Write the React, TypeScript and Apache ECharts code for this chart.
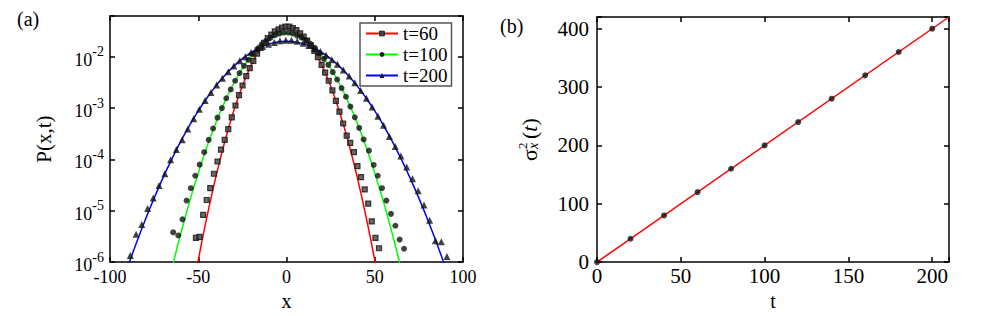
import React, { useEffect, useRef } from 'react';
import * as echarts from 'echarts';

// ---------- panel (a): simulation points ----------
const sqX = [-51.3,-49.3,-47.2,-45.2,-43.2,-41.1,-39.1,-37.1,-35.0,-33.0,-31.0,-28.9,-26.9,-24.9,-22.8,-20.8,-18.8,-16.7,-14.7,-12.7,-10.6,-8.6,-6.6,-4.5,-2.5,-0.5,1.6,3.6,5.6,7.7,9.7,11.7,13.8,15.8,17.8,19.9,21.9,23.9,26.0,28.0,30.0,32.1,34.1,36.1,38.2,40.2,42.2,44.3,46.3,48.3,50.4,52.4];
const sqP = [2.95e-6,3.1e-6,8.3e-6,1.62e-5,2.75e-5,5.25e-5,9.1e-5,1.55e-4,2.4e-4,3.9e-4,6.6e-4,1.12e-3,1.78e-3,2.75e-3,4.2e-3,6.0e-3,8.3e-3,1.15e-2,1.48e-2,1.86e-2,2.29e-2,2.69e-2,3.1e-2,3.4e-2,3.7e-2,3.85e-2,3.85e-2,3.6e-2,3.3e-2,2.85e-2,2.45e-2,2.05e-2,1.65e-2,1.3e-2,9.8e-3,6.9e-3,4.9e-3,3.4e-3,2.2e-3,1.38e-3,8.5e-4,5.0e-4,2.9e-4,2.1e-4,1.38e-4,7.4e-5,4.5e-5,2.6e-5,1.38e-5,6.2e-6,2.95e-6,1.86e-6];

const ciX = [-64.2,-61.3,-58.9,-56.6,-54.2,-51.7,-49.2,-46.6,-44.1,-41.6,-39.1,-36.6,-34.1,-31.6,-29.1,-26.6,-24.1,-21.6,-19.1,-16.5,-14.0,-11.5,-9.0,-6.5,-4.0,-1.5,1.1,3.6,6.1,8.6,11.1,13.6,16.1,18.6,21.2,23.7,26.2,28.7,31.2,33.7,36.2,38.7,41.2,43.7,46.7,49.4,51.7,54.1,56.6,59.2,61.7,64.1,66.6];
const ciP = [3.8e-6,3.3e-6,6.8e-6,1.58e-5,2.75e-5,4.8e-5,7.9e-5,1.38e-4,2.4e-4,4.0e-4,6.5e-4,1.0e-3,1.55e-3,2.3e-3,3.4e-3,4.8e-3,6.6e-3,8.7e-3,1.12e-2,1.41e-2,1.74e-2,2.04e-2,2.34e-2,2.63e-2,2.82e-2,2.95e-2,2.95e-2,2.82e-2,2.57e-2,2.34e-2,2.09e-2,1.78e-2,1.48e-2,1.17e-2,9.1e-3,6.9e-3,5.0e-3,3.6e-3,2.45e-3,1.66e-3,1.07e-3,6.6e-4,4.1e-4,2.45e-4,1.48e-4,7.8e-5,4.8e-5,2.75e-5,1.58e-5,8.7e-6,5.1e-6,2.75e-6,1.82e-6];

const trX = [-88.5,-85.2,-82.0,-78.7,-75.5,-72.2,-68.9,-65.7,-62.4,-59.1,-55.9,-52.6,-49.4,-46.1,-42.8,-39.6,-36.3,-33.0,-29.8,-26.5,-23.3,-20.0,-16.7,-13.5,-10.2,-6.9,-3.7,-0.4,2.8,6.1,9.4,12.6,15.9,19.2,22.4,25.7,28.9,32.2,35.5,38.7,42.0,45.3,48.5,51.8,55.0,58.3,61.6,64.8,68.1,71.4,74.6,77.9,81.1,84.4,87.7,90.9];
const trP = [1.35e-6,3.5e-6,5.4e-6,1.1e-5,1.78e-5,3.1e-5,5.25e-5,9.8e-5,1.55e-4,2.4e-4,3.9e-4,6.2e-4,9.5e-4,1.41e-3,2.0e-3,2.8e-3,3.8e-3,5.1e-3,6.6e-3,8.3e-3,1.0e-2,1.2e-2,1.41e-2,1.58e-2,1.74e-2,1.9e-2,2.04e-2,2.09e-2,2.09e-2,2.0e-2,1.82e-2,1.66e-2,1.45e-2,1.26e-2,1.07e-2,8.7e-3,7.1e-3,5.5e-3,4.2e-3,3.1e-3,2.2e-3,1.55e-3,1.05e-3,6.9e-4,4.6e-4,2.8e-4,1.78e-4,1.17e-4,7.1e-5,4.2e-5,2.45e-5,1.29e-5,6.5e-6,2.6e-6,2.5e-6,1.29e-6];

// ---------- panel (a): Gaussian curves ----------
const curveX60 = [-55,-50,-45,-40,-35,-30,-25,-20,-15,-10,-5,0,5,10,15,20,25,30,35,40,45,50,55];
const curveP60 = [1.22e-7,1.09e-6,7.87e-6,4.63e-5,2.21e-4,8.55e-4,2.69e-3,6.87e-3,1.43e-2,2.40e-2,3.28e-2,3.64e-2,3.28e-2,2.40e-2,1.43e-2,6.87e-3,2.69e-3,8.55e-4,2.21e-4,4.63e-5,7.87e-6,1.09e-6,1.22e-7];

const curveX100 = [-70,-65,-60,-55,-50,-45,-40,-35,-30,-25,-20,-15,-10,-5,0,5,10,15,20,25,30,35,40,45,50,55,60,65,70];
const curveP100 = [1.35e-7,7.3e-7,3.48e-6,1.47e-5,5.44e-5,1.78e-4,5.16e-4,1.32e-3,2.97e-3,5.92e-3,1.04e-2,1.61e-2,2.20e-2,2.65e-2,2.82e-2,2.65e-2,2.20e-2,1.61e-2,1.04e-2,5.92e-3,2.97e-3,1.32e-3,5.16e-4,1.78e-4,5.44e-5,1.47e-5,3.48e-6,7.3e-7,1.35e-7];

const curveX200 = [-95,-90,-85,-80,-75,-70,-65,-60,-55,-50,-45,-40,-35,-30,-25,-20,-15,-10,-5,0,5,10,15,20,25,30,35,40,45,50,55,60,65,70,75,80,85,90,95];
const curveP200 = [2.52e-7,8.0e-7,2.39e-6,6.70e-6,1.76e-5,4.37e-5,1.01e-4,2.22e-4,4.55e-4,8.77e-4,1.59e-3,2.70e-3,4.32e-3,6.48e-3,9.14e-3,1.21e-2,1.51e-2,1.76e-2,1.93e-2,1.995e-2,1.93e-2,1.76e-2,1.51e-2,1.21e-2,9.14e-3,6.48e-3,4.32e-3,2.70e-3,1.59e-3,8.77e-4,4.55e-4,2.22e-4,1.01e-4,4.37e-5,1.76e-5,6.70e-6,2.39e-6,8.0e-7,2.52e-7];

const legendNames = ['t=60', 't=100', 't=200'];

// ---------- panel (b) ----------
const tPts = [0, 20, 40, 60, 80, 100, 120, 140, 160, 180, 200];
const sigPts = [0, 40, 80, 120, 160, 200, 240, 280, 320, 360, 400];
const fitT = [0, 210];
const fitSig = [0, 420];

const FONT = "'Liberation Serif', 'Times New Roman', serif";

const zip = (xs: number[], ys: number[]) => xs.map((x, i) => [x, ys[i]]);

const axisLineStyle = { color: '#000', width: 1.5 };

function buildOption() {
  const logFormatter = (v: number) => {
    const l = Math.log10(v);
    const e = Math.round(l);
    if (Math.abs(l - e) > 1e-6) return '';
    return `{b|10}{s|${e}}`;
  };
  const logRich = {
    b: { fontFamily: FONT, fontSize: 18, color: '#000', lineHeight: 24, verticalAlign: 'bottom' },
    s: { fontFamily: FONT, fontSize: 14, color: '#000', lineHeight: 14, verticalAlign: 'top' },
  };
  const mkX = (grid: number, min: number, max: number, interval: number, pos: 'bottom' | 'top', labels: boolean, fontSize: number, margin: number, name?: string, nameGap?: number) => ({
    gridIndex: grid, type: 'value', position: pos, min, max, interval,
    name: name || '', nameLocation: 'middle', nameGap: nameGap || 0,
    nameTextStyle: { fontFamily: FONT, fontSize: 20, color: '#000' },
    axisLine: { show: true, onZero: false, lineStyle: axisLineStyle },
    axisTick: { show: true, inside: true, length: 5, lineStyle: axisLineStyle },
    axisLabel: {
      show: labels, fontFamily: FONT, fontSize, color: '#000', margin,
      formatter: (v: number) => (Math.abs(v % interval) < 1e-9 ? String(v) : ''),
    },
    splitLine: { show: false },
  });

  return {
    animation: false,
    backgroundColor: '#fff',
    grid: [
      { left: 110, top: 16, right: 518, bottom: 53.5 },
      { left: 597, top: 17, right: 32, bottom: 52.7 },
    ],
    xAxis: [
      mkX(0, -100, 100, 50, 'bottom', true, 18, 6, 'x', 25),
      mkX(0, -100, 100, 50, 'top', false, 18, 6),
      mkX(1, 0, 210, 50, 'bottom', true, 21, 3, 't', 17),
      mkX(1, 0, 210, 50, 'top', false, 21, 3),
    ],
    yAxis: [
      {
        gridIndex: 0, type: 'log', logBase: 10, min: 1e-6, max: 0.062, position: 'left',
        name: 'P(x,t)', nameLocation: 'middle', nameGap: 56, nameRotate: 90,
        nameTextStyle: { fontFamily: FONT, fontSize: 21, color: '#000' },
        axisLine: { show: true, onZero: false, lineStyle: axisLineStyle },
        axisTick: { show: true, inside: true, length: 5, lineStyle: axisLineStyle },
        axisLabel: { formatter: logFormatter, rich: logRich, margin: 6 },
        splitLine: { show: false },
        minorTick: { show: false },
      },
      {
        gridIndex: 0, type: 'log', logBase: 10, min: 1e-6, max: 0.062, position: 'right',
        axisLine: { show: true, onZero: false, lineStyle: axisLineStyle },
        axisTick: { show: true, inside: true, length: 5, lineStyle: axisLineStyle },
        axisLabel: { show: false },
        splitLine: { show: false },
      },
      {
        gridIndex: 1, type: 'value', min: 0, max: 420, interval: 100, position: 'left',
        axisLine: { show: true, onZero: false, lineStyle: axisLineStyle },
        axisTick: { show: true, inside: true, length: 5, lineStyle: axisLineStyle },
        axisLabel: {
          fontFamily: FONT, fontSize: 21, color: '#000', margin: 8,
          formatter: (v: number) => (v % 100 === 0 ? String(v) : ''),
        },
        splitLine: { show: false },
      },
      {
        gridIndex: 1, type: 'value', min: 0, max: 420, interval: 100, position: 'right',
        axisLine: { show: true, onZero: false, lineStyle: axisLineStyle },
        axisTick: { show: true, inside: true, length: 5, lineStyle: axisLineStyle },
        axisLabel: { show: false },
        splitLine: { show: false },
      },
    ],
    legend: {
      show: true, orient: 'vertical', left: 360, top: 23,
      itemWidth: 32, itemHeight: 6, itemGap: 2, padding: [1, 4, 1, 5],
      borderColor: '#555', borderWidth: 1.5, backgroundColor: '#fff',
      textStyle: { fontFamily: FONT, fontSize: 19, color: '#000' },
      data: [
        { name: legendNames[0], itemStyle: { borderWidth: 0.8 } },
        { name: legendNames[1] },
        { name: legendNames[2] },
      ],
    },
    series: [
      {
        name: legendNames[0], type: 'line', xAxisIndex: 0, yAxisIndex: 0,
        data: zip(curveX60, curveP60), smooth: 0.4, showSymbol: false, symbol: 'rect', symbolSize: 6,
        lineStyle: { color: '#ff0000', width: 1.5 }, itemStyle: { color: '#444', borderColor: '#111', borderWidth: 1.2 }, z: 2,
      },
      {
        name: legendNames[1], type: 'line', xAxisIndex: 0, yAxisIndex: 0,
        data: zip(curveX100, curveP100), smooth: 0.4, showSymbol: false, symbol: 'circle', symbolSize: 6,
        lineStyle: { color: '#00ff00', width: 1.5 }, itemStyle: { color: '#111' }, z: 2,
      },
      {
        name: legendNames[2], type: 'line', xAxisIndex: 0, yAxisIndex: 0,
        data: zip(curveX200, curveP200), smooth: 0.4, showSymbol: false, symbol: 'triangle', symbolSize: 6,
        lineStyle: { color: '#0000ff', width: 1.5 }, itemStyle: { color: '#111' }, z: 2,
      },
      {
        name: 'pts60', type: 'scatter', xAxisIndex: 0, yAxisIndex: 0, data: zip(sqX, sqP),
        symbol: 'rect', symbolSize: 5, itemStyle: { color: '#444', borderColor: '#111', borderWidth: 1.2 }, z: 3,
      },
      {
        name: 'pts100', type: 'scatter', xAxisIndex: 0, yAxisIndex: 0, data: zip(ciX, ciP),
        symbol: 'circle', symbolSize: 6, itemStyle: { color: '#111' }, z: 3,
      },
      {
        name: 'pts200', type: 'scatter', xAxisIndex: 0, yAxisIndex: 0, data: zip(trX, trP),
        symbol: 'triangle', symbolSize: 7, itemStyle: { color: '#111' }, z: 3,
      },
      {
        name: 'fit', type: 'line', xAxisIndex: 2, yAxisIndex: 2, data: zip(fitT, fitSig),
        showSymbol: false, lineStyle: { color: '#ff0000', width: 1.5 }, z: 2,
      },
      {
        name: 'sigma', type: 'scatter', xAxisIndex: 2, yAxisIndex: 2, data: zip(tPts, sigPts),
        symbol: 'circle', symbolSize: 6, itemStyle: { color: '#111' }, z: 3,
      },
    ],
    graphic: [
      { type: 'text', left: 17, top: 9, style: { text: '(a)', font: `20px ${FONT}`, fill: '#000' } },
      { type: 'text', left: 500, top: 16, style: { text: '(b)', font: `20px ${FONT}`, fill: '#000' } },
      {
        type: 'group', x: 529, y: 134, rotation: Math.PI / 2,
        children: [
          { type: 'text', x: -27, y: 0, style: { text: 'σ', font: `22px ${FONT}`, fill: '#000', verticalAlign: 'middle' } },
          { type: 'text', x: -15, y: 4, style: { text: 'x', font: `italic 14px ${FONT}`, fill: '#000', verticalAlign: 'middle' } },
          { type: 'text', x: -15, y: -7, style: { text: '2', font: `13px ${FONT}`, fill: '#000', verticalAlign: 'middle' } },
          {
            type: 'text', x: -5, y: 0,
            style: {
              text: '{p|(}{i|t}{p|)}', verticalAlign: 'middle', fill: '#000',
              rich: {
                p: { fontFamily: FONT, fontSize: 22, fill: '#000' },
                i: { fontFamily: FONT, fontSize: 22, fontStyle: 'italic', fill: '#000' },
              },
            },
          },
        ],
      },
    ],
  };
}

export default function App() {
  const ref = useRef<HTMLDivElement>(null);
  useEffect(() => {
    if (!ref.current) return;
    const chart = echarts.init(ref.current, null, { renderer: 'svg' });
    chart.setOption(buildOption() as any);
    return () => chart.dispose();
  }, []);
  return <div ref={ref} style={{ position: 'absolute', left: 0, top: 0, width: 981, height: 316 }} />;
}
